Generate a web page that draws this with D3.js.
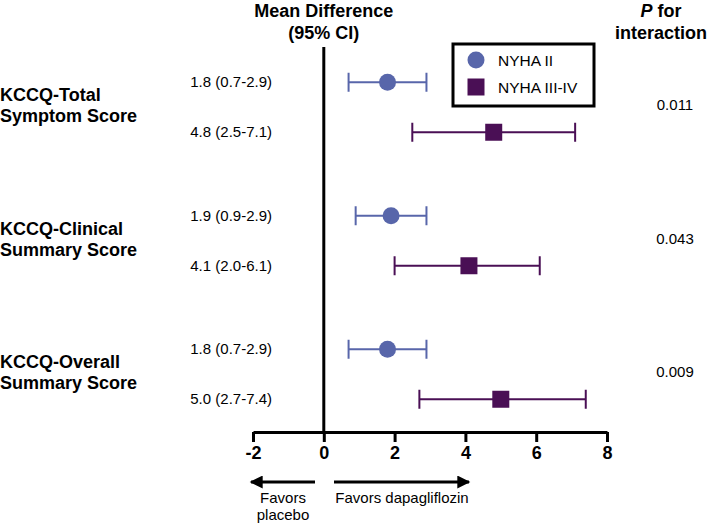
<!DOCTYPE html>
<html>
<head>
<meta charset="utf-8">
<script src="https://cdn.jsdelivr.net/npm/d3@7"></script>
<style>
  body { margin: 0; background: #fff; }
  svg { display: block; font-family: "Liberation Sans", Arial, Helvetica, sans-serif; }
</style>
</head>
<body>
<svg id="chart" width="709" height="524"></svg>
<script>
// ---- Data ----
const categories = ["KCCQ-Total Symptom Score", "KCCQ-Clinical Summary Score", "KCCQ-Overall Summary Score"];
const categoryLines = [["KCCQ-Total", "Symptom Score"], ["KCCQ-Clinical", "Summary Score"], ["KCCQ-Overall", "Summary Score"]];
const groups = ["NYHA II", "NYHA III-IV"];
const nyha2Mean = [1.8, 1.9, 1.8];
const nyha2Low = [0.7, 0.9, 0.7];
const nyha2High = [2.9, 2.9, 2.9];
const nyha34Mean = [4.8, 4.1, 5.0];
const nyha34Low = [2.5, 2.0, 2.7];
const nyha34High = [7.1, 6.1, 7.4];
const pValues = ["0.011", "0.043", "0.009"];
const xTicks = [-2, 0, 2, 4, 6, 8];

const colors = { "NYHA II": "#5866aa", "NYHA III-IV": "#4a0f55" };

const rows = [];
categories.forEach((c, i) => {
  rows.push({ cat: c, group: "NYHA II", mean: nyha2Mean[i], lo: nyha2Low[i], hi: nyha2High[i] });
  rows.push({ cat: c, group: "NYHA III-IV", mean: nyha34Mean[i], lo: nyha34Low[i], hi: nyha34High[i] });
});
const fmt = d3.format(".1f");

// ---- Scales ----
const svg = d3.select("#chart");
const x = d3.scaleLinear().domain([-2, 8]).range([253, 607]);
const yCat = d3.scaleBand().domain(categories).range([40.5, 441]);
const yGrp = d3.scalePoint().domain(groups).range([-25, 25]);
const yc = c => yCat(c) + yCat.bandwidth() / 2;
const yRow = d => yc(d.cat) + yGrp(d.group);

const axisY = 432;

// ---- Header ----
svg.append("text").attr("x", x(0)).attr("y", 17).attr("text-anchor", "middle")
  .attr("font-size", 18).attr("font-weight", "bold").text("Mean Difference");
svg.append("text").attr("x", x(0)).attr("y", 39).attr("text-anchor", "middle")
  .attr("font-size", 18).attr("font-weight", "bold").text("(95% CI)");
const ph = svg.append("text").attr("x", 661).attr("y", 17).attr("text-anchor", "middle")
  .attr("font-size", 18).attr("font-weight", "bold");
ph.append("tspan").attr("font-style", "italic").text("P");
ph.append("tspan").text(" for");
svg.append("text").attr("x", 661).attr("y", 39).attr("text-anchor", "middle")
  .attr("font-size", 18).attr("font-weight", "bold").text("interaction");

// ---- Zero line ----
svg.append("line").attr("x1", x(0)).attr("x2", x(0)).attr("y1", 47).attr("y2", axisY)
  .attr("stroke", "#000").attr("stroke-width", 3);

// ---- Axis ----
const axis = svg.append("g").attr("transform", `translate(0,${axisY})`)
  .call(d3.axisBottom(x).tickValues(xTicks).tickSize(10).tickSizeOuter(0).tickPadding(4).tickFormat(d3.format("d")));
axis.select(".domain").attr("stroke", "#000").attr("stroke-width", 3);
axis.selectAll(".tick line").attr("stroke", "#000").attr("stroke-width", 3);
axis.selectAll(".tick text").attr("font-size", 18).attr("font-weight", "bold")
  .attr("font-family", "'Liberation Sans', Arial, sans-serif").attr("fill", "#000")
  .text(d => d < 0 ? "-" + Math.abs(d) : String(d));

// ---- Category labels & p values ----
categories.forEach((c, i) => {
  const t = svg.append("text").attr("x", 0).attr("font-size", 18).attr("font-weight", "bold");
  categoryLines[i].forEach((ln, j) => {
    t.append("tspan").attr("x", 0).attr("y", yc(c) - 6 + j * 21).text(ln);
  });
  svg.append("text").attr("x", 675).attr("y", yc(c) + 3).attr("text-anchor", "middle")
    .attr("font-size", 15).text(pValues[i]);
});

// ---- CI labels ----
svg.selectAll("text.ci").data(rows).join("text").attr("class", "ci")
  .attr("x", 272).attr("y", d => yRow(d) + 5).attr("text-anchor", "end").attr("font-size", 15)
  .text(d => `${fmt(d.mean)} (${fmt(d.lo)}-${fmt(d.hi)})`);

// ---- Error bars ----
const cap = 9.5;
const eb = svg.selectAll("g.eb").data(rows).join("g").attr("class", "eb")
  .attr("stroke", d => colors[d.group]).attr("stroke-width", 2);
eb.append("line").attr("x1", d => x(d.lo)).attr("x2", d => x(d.hi)).attr("y1", yRow).attr("y2", yRow);
eb.append("line").attr("x1", d => x(d.lo)).attr("x2", d => x(d.lo)).attr("y1", d => yRow(d) - cap).attr("y2", d => yRow(d) + cap);
eb.append("line").attr("x1", d => x(d.hi)).attr("x2", d => x(d.hi)).attr("y1", d => yRow(d) - cap).attr("y2", d => yRow(d) + cap);

// ---- Points ----
const sym = { "NYHA II": d3.symbolCircle, "NYHA III-IV": d3.symbolSquare };
const symSize = { "NYHA II": Math.PI * 8.5 * 8.5, "NYHA III-IV": 17 * 17 };
svg.selectAll("path.pt").data(rows).join("path").attr("class", "pt")
  .attr("transform", d => `translate(${x(d.mean)},${yRow(d)})`)
  .attr("d", d => d3.symbol(sym[d.group], symSize[d.group])())
  .attr("fill", d => colors[d.group]);

// ---- Legend ----
svg.append("rect").attr("x", 453).attr("y", 44).attr("width", 141).attr("height", 62)
  .attr("fill", "#fff").attr("stroke", "#000").attr("stroke-width", 3);
groups.forEach((g, i) => {
  const ly = 60 + i * 27;
  svg.append("path").attr("transform", `translate(476,${ly})`)
    .attr("d", d3.symbol(sym[g], symSize[g])()).attr("fill", colors[g]);
  svg.append("text").attr("x", 498).attr("y", ly + 6).attr("font-size", 15.5).text(g);
});

// ---- Favors arrows ----
const defs = svg.append("defs");
defs.append("marker").attr("id", "ah").attr("viewBox", "0 0 10 10").attr("refX", 9).attr("refY", 5)
  .attr("markerWidth", 16).attr("markerHeight", 13).attr("markerUnits", "userSpaceOnUse").attr("orient", "auto")
  .append("path").attr("d", "M0,0 L10,5 L0,10 Z").attr("fill", "#000");
const ay = 482;
svg.append("line").attr("x1", 315).attr("x2", 251).attr("y1", ay).attr("y2", ay)
  .attr("stroke", "#000").attr("stroke-width", 3).attr("marker-end", "url(#ah)");
svg.append("line").attr("x1", 334).attr("x2", 469).attr("y1", ay).attr("y2", ay)
  .attr("stroke", "#000").attr("stroke-width", 3).attr("marker-end", "url(#ah)");
svg.append("text").attr("x", 283).attr("y", 503).attr("text-anchor", "middle").attr("font-size", 15).text("Favors");
svg.append("text").attr("x", 283).attr("y", 520).attr("text-anchor", "middle").attr("font-size", 15).text("placebo");
svg.append("text").attr("x", 402).attr("y", 503).attr("text-anchor", "middle").attr("font-size", 15).text("Favors dapagliflozin");
</script>
</body>
</html>
